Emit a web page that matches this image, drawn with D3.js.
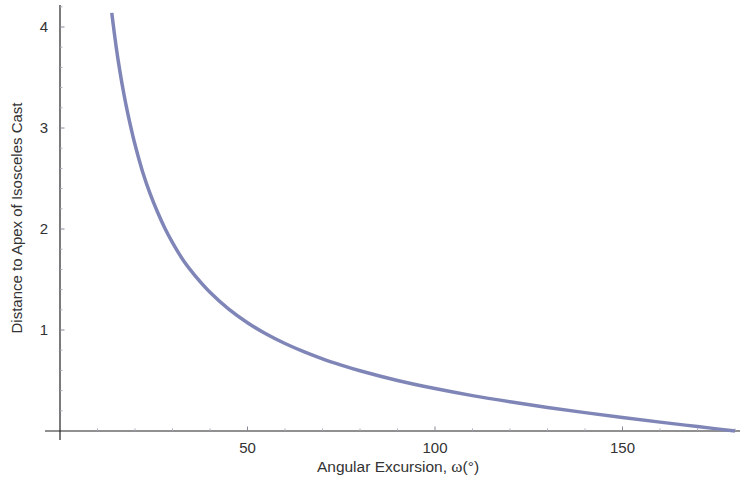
<!DOCTYPE html>
<meta charset="utf-8">
<style>
    body { margin: 0; background: #fff; }
    text { font-family: "Liberation Sans", Arial, sans-serif; fill: #333; }
</style>
<svg width="740" height="482"></svg>
<script src="https://d3js.org/d3.v7.min.js"></script>
<script>

    // angle in degrees, distance
    var omega = [13.8, 15, 16, 17, 18, 19, 20, 22, 24, 26, 28, 30, 33, 36, 40, 45, 50, 55, 60, 65, 70, 75, 80, 90, 100, 110, 120, 130, 140, 150, 160, 170, 180];
    var distance = [4.14, 3.798, 3.556, 3.344, 3.157, 2.99, 2.836, 2.57, 2.352, 2.168, 2.005, 1.866, 1.683, 1.539, 1.374, 1.207, 1.072, 0.96, 0.866, 0.785, 0.714, 0.652, 0.596, 0.5, 0.42, 0.35, 0.289, 0.233, 0.182, 0.134, 0.088, 0.044, 0];
    var xTicks = [50, 100, 150];
    var yTicks = [1, 2, 3, 4];

    var svg = d3.select("svg");

    var x = d3.scaleLinear().domain([0, 180]).range([60, 735]);
    var y = d3.scaleLinear().domain([0, 4]).range([431, 27]);

    var points = omega.map(function (d, i) { return [d, distance[i]]; });

    // axis lines
    svg.append("line")
        .attr("x1", 45).attr("x2", 740)
        .attr("y1", y(0)).attr("y2", y(0))
        .attr("stroke", "#222").attr("stroke-width", 1.2);
    svg.append("line")
        .attr("x1", x(0)).attr("x2", x(0))
        .attr("y1", 5).attr("y2", 440)
        .attr("stroke", "#222").attr("stroke-width", 1.2);

    // minor ticks
    svg.append("g").selectAll("line")
        .data(d3.range(10, 181, 10).filter(function (d) { return d % 50 !== 0; }))
        .enter().append("line")
        .attr("x1", function (d) { return x(d); })
        .attr("x2", function (d) { return x(d); })
        .attr("y1", y(0)).attr("y2", y(0) - 2.5)
        .attr("stroke", "#aab");
    svg.append("g").selectAll("line")
        .data(d3.range(0.2, 4.25, 0.2).filter(function (d) { return Math.abs(d - Math.round(d)) > 0.01; }))
        .enter().append("line")
        .attr("x1", x(0)).attr("x2", x(0) + 2.5)
        .attr("y1", function (d) { return y(d); })
        .attr("y2", function (d) { return y(d); })
        .attr("stroke", "#aab");

    // major ticks + labels
    var gx = svg.append("g");
    gx.selectAll("line").data(xTicks).enter().append("line")
        .attr("x1", function (d) { return x(d); })
        .attr("x2", function (d) { return x(d); })
        .attr("y1", y(0)).attr("y2", y(0) - 4.5)
        .attr("stroke", "#889");
    gx.selectAll("text").data(xTicks).enter().append("text")
        .attr("x", function (d) { return x(d); })
        .attr("y", 453)
        .attr("text-anchor", "middle")
        .attr("font-size", "15px")
        .text(function (d) { return d; });

    var gy = svg.append("g");
    gy.selectAll("line").data(yTicks).enter().append("line")
        .attr("x1", x(0)).attr("x2", x(0) + 4.5)
        .attr("y1", function (d) { return y(d); })
        .attr("y2", function (d) { return y(d); })
        .attr("stroke", "#889");
    gy.selectAll("text").data(yTicks).enter().append("text")
        .attr("x", 48)
        .attr("y", function (d) { return y(d) + 5; })
        .attr("text-anchor", "end")
        .attr("font-size", "15px")
        .text(function (d) { return d; });

    // axis titles
    var xt = svg.append("text")
        .attr("x", 398).attr("y", 472)
        .attr("text-anchor", "middle")
        .attr("font-size", "15.5px");
    xt.append("tspan").text("Angular Excursion, ");
    xt.append("tspan").attr("font-family", "'Liberation Serif', serif").attr("font-size", "17px").text("ω");
    xt.append("tspan").text("(°)");

    svg.append("text")
        .attr("transform", "translate(22,218) rotate(-90)")
        .attr("text-anchor", "middle")
        .attr("font-size", "15px")
        .text("Distance to Apex of Isosceles Cast");

    // curve
    svg.append("path")
        .datum(points)
        .attr("fill", "none")
        .attr("stroke", "#7f86b7")
        .attr("stroke-width", 3.5)
        .attr("d", d3.line()
            .x(function (d) { return x(d[0]); })
            .y(function (d) { return y(d[1]); })
            .curve(d3.curveCatmullRom.alpha(0.5)));

</script>
